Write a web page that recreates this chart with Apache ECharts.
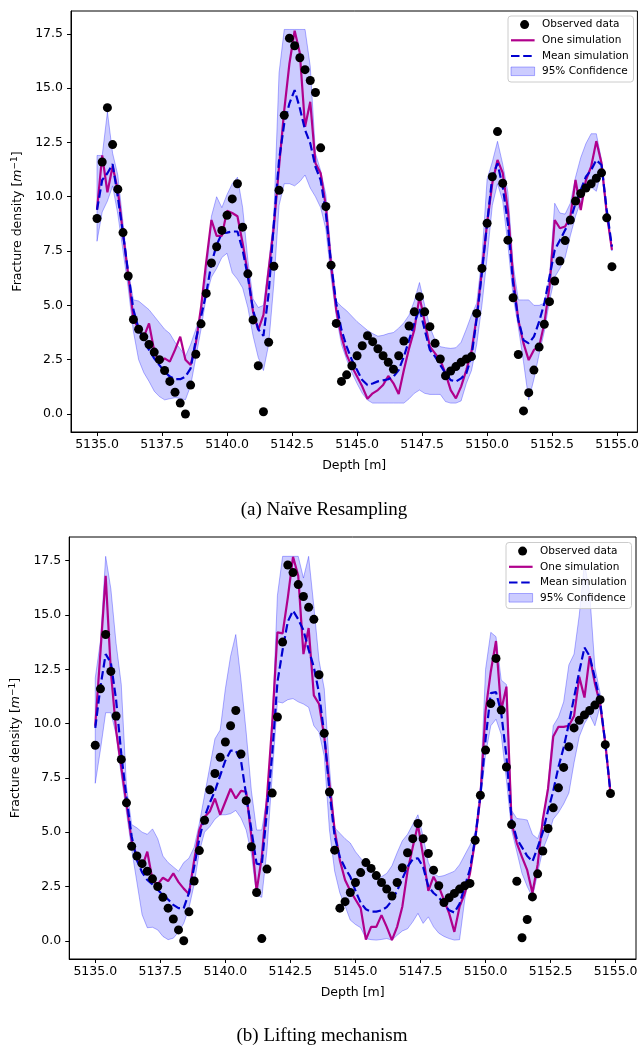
<!DOCTYPE html>
<html><head><meta charset="utf-8">
<script src="https://cdn.jsdelivr.net/npm/echarts@6/dist/echarts.min.js"></script>
<style>html,body{margin:0;padding:0;background:#fff}#c{width:642px;height:1046px}</style>
</head><body><div id="c"></div>
<script>
const depth = [5135.0,5135.2,5135.4,5135.6,5135.8,5136.0,5136.2,5136.4,5136.6,5136.8,
5137.0,5137.2,5137.4,5137.6,5137.8,5138.0,5138.2,5138.4,5138.6,5138.8,
5139.0,5139.2,5139.4,5139.6,5139.8,5140.0,5140.2,5140.4,5140.6,5140.8,
5141.0,5141.2,5141.4,5141.6,5141.8,5142.0,5142.2,5142.4,5142.6,5142.8,
5143.0,5143.2,5143.4,5143.6,5143.8,5144.0,5144.2,5144.4,5144.6,5144.8,
5145.0,5145.2,5145.4,5145.6,5145.8,5146.0,5146.2,5146.4,5146.6,5146.8,
5147.0,5147.2,5147.4,5147.6,5147.8,5148.0,5148.2,5148.4,5148.6,5148.8,
5149.0,5149.2,5149.4,5149.6,5149.8,5150.0,5150.2,5150.4,5150.6,5150.8,
5151.0,5151.2,5151.4,5151.6,5151.8,5152.0,5152.2,5152.4,5152.6,5152.8,
5153.0,5153.2,5153.4,5153.6,5153.8,5154.0,5154.2,5154.4,5154.6,5154.8];

const observed = [9.0,11.6,14.1,12.4,10.35,8.35,6.35,4.35,3.9,3.55,
3.2,2.85,2.5,2.0,1.5,1.0,0.5,0.0,1.33,2.75,
4.15,5.55,6.95,7.7,8.45,9.15,9.9,10.6,8.6,6.45,
4.33,2.22,0.1,3.3,6.8,10.3,13.75,17.3,16.95,16.4,
15.85,15.35,14.8,12.25,9.55,6.85,4.17,1.5,1.8,2.22,
2.68,3.14,3.6,3.33,3.0,2.68,2.38,2.06,2.68,3.36,
4.05,4.7,5.4,4.7,4.02,3.25,2.53,1.76,1.98,2.18,
2.38,2.53,2.64,4.63,6.7,8.78,10.92,13.0,10.62,8.0,
5.35,2.74,0.14,0.98,2.02,3.08,4.13,5.17,6.12,7.04,
7.98,8.93,9.8,10.15,10.4,10.6,10.85,11.1,9.03,6.78];

// (a) Naive resampling
const oneSimA = [9.4,11.9,10.2,11.4,10.3,8.3,6.4,4.4,3.9,3.55,
4.17,2.9,2.33,2.56,2.41,2.95,3.56,2.5,2.25,3.25,
4.9,7.0,8.93,8.2,8.2,9.35,9.25,9.1,7.86,6.47,
4.7,3.87,4.56,6.63,8.62,11.38,13.99,16.14,17.64,16.6,
13.22,14.37,11.54,11.08,9.56,6.86,4.79,3.56,2.72,2.18,
1.72,1.26,0.7,0.95,1.1,1.33,1.75,1.41,0.92,2.02,
3.02,3.87,5.4,4.25,3.1,2.79,2.48,1.87,1.1,0.72,
1.26,2.02,2.87,4.48,6.6,8.78,10.62,11.69,11.1,9.39,
6.32,4.33,3.25,2.48,2.95,3.1,4.17,5.86,8.93,8.55,
8.63,9.08,10.77,9.39,10.77,11.38,12.56,11.54,9.24,7.55];
const meanA = [9.4,10.77,11.08,11.5,10.0,8.3,6.5,4.79,3.94,3.4,
2.95,2.56,2.25,1.95,1.72,1.6,1.6,1.72,2.1,3.4,
4.48,5.55,6.93,7.78,8.32,8.35,8.4,8.4,7.55,6.32,
4.79,3.9,3.6,5.55,8.78,11.69,13.38,14.3,14.91,14.07,
13.07,12.46,11.38,10.77,9.24,6.9,5.09,3.87,3.1,2.48,
2.02,1.56,1.33,1.4,1.5,1.55,1.6,1.72,2.02,2.64,
3.4,4.17,4.86,3.87,2.95,2.64,2.25,1.87,1.56,1.49,
1.64,1.87,2.64,4.4,6.5,8.78,10.92,11.54,10.46,8.78,
6.01,4.33,3.4,3.25,3.56,4.25,5.09,6.32,7.55,8.0,
8.47,8.93,9.7,10.31,10.92,11.23,11.69,11.46,9.39,7.7];
const upperA = [11.9,11.9,13.9,12.0,11.0,8.8,6.6,5.25,5.2,5.0,
4.8,4.5,4.2,3.9,3.7,3.3,3.0,2.65,3.2,3.9,
4.6,6.4,9.1,10.0,9.5,10.1,10.6,10.9,9.5,7.1,
5.3,4.9,5.0,6.9,9.1,15.7,17.7,17.7,17.7,17.7,
17.7,16.0,12.0,11.2,10.1,7.4,5.2,4.95,4.75,4.5,
4.25,4.05,3.85,3.7,3.58,3.62,3.7,3.75,3.95,4.2,
4.55,5.2,6.05,5.0,4.0,3.4,3.1,3.05,3.02,3.05,
3.3,3.9,4.55,5.1,7.2,10.8,11.6,12.55,11.5,10.2,
6.9,5.25,5.25,5.25,5.0,5.0,5.1,6.3,9.7,9.25,
9.2,9.7,10.9,11.8,12.45,12.9,12.9,11.7,9.3,7.6];
const lowerA = [7.95,9.3,9.8,10.5,9.2,7.5,5.8,3.8,2.5,1.9,
1.5,1.05,0.8,0.65,0.7,0.75,0.72,0.65,1.3,2.6,
3.9,5.4,6.3,6.7,7.2,7.4,6.5,6.2,5.8,4.9,
3.6,2.6,2.0,3.2,6.0,9.6,10.6,10.6,10.5,10.7,
11.0,10.4,10.0,9.5,8.5,6.3,4.5,3.2,2.5,1.9,
1.4,0.95,0.64,0.5,0.5,0.5,0.5,0.5,0.5,0.5,
0.7,0.95,1.1,0.95,0.9,0.9,0.9,0.57,0.5,0.5,
0.6,1.4,2.0,3.2,5.0,7.2,9.6,10.6,9.8,7.8,
5.4,4.0,2.4,0.64,1.6,2.75,3.8,5.2,6.3,6.7,
7.2,8.2,9.1,9.8,10.3,10.45,10.25,11.2,9.2,7.5];

// (b) Lifting mechanism
const oneSimB = [9.9,13.3,16.8,12.4,9.7,8.0,6.3,4.6,3.9,3.4,
4.1,2.8,2.6,2.9,2.75,3.1,2.7,2.4,2.15,3.7,
5.1,5.7,5.95,6.55,5.8,6.4,7.0,6.55,6.9,6.86,
4.8,2.3,3.85,6.6,10.0,14.2,14.15,15.8,17.68,16.8,
13.2,14.4,11.3,10.9,9.4,7.2,5.1,3.7,2.8,2.3,
1.9,1.5,0.05,0.64,0.64,1.18,0.64,0.03,0.64,1.57,
3.2,4.3,5.35,3.9,2.3,2.95,2.5,1.87,1.26,0.41,
1.57,2.18,3.1,4.64,6.63,10.6,12.4,13.8,10.6,11.7,
5.4,4.5,3.85,3.25,2.2,3.5,5.6,7.0,9.4,9.85,
9.85,9.9,10.35,12.15,11.2,13.1,11.85,10.9,9.1,6.8];
const meanB = [9.8,11.7,13.2,12.8,11.1,8.6,6.6,4.8,3.7,3.15,
2.8,2.6,2.35,2.1,1.9,1.65,1.5,1.5,2.2,3.4,
4.7,5.7,6.35,6.9,7.6,8.3,8.75,8.75,8.3,6.7,
5.1,3.55,3.5,6.0,8.6,11.9,13.4,14.7,15.2,14.8,
14.3,13.4,12.6,11.4,9.5,6.9,4.8,3.85,3.35,2.95,
2.3,1.75,1.45,1.34,1.34,1.4,1.55,1.85,2.3,2.85,
3.4,3.75,3.8,3.4,2.5,2.2,2.0,1.7,1.4,1.3,
1.7,2.5,3.3,4.7,6.7,9.3,11.4,11.45,10.5,8.5,
5.56,4.7,4.3,3.9,3.65,4.3,5.0,6.0,6.9,8.0,
8.9,10.0,11.2,12.4,13.5,13.1,12.1,11.0,9.1,6.8];
const upperB = [12.1,13.8,17.7,16.2,13.7,11.8,7.1,5.35,5.2,5.0,
4.9,5.15,4.7,3.9,3.6,3.4,3.2,3.6,3.8,4.3,
5.4,6.7,8.0,9.3,9.7,11.6,13.1,14.1,12.0,9.6,
6.9,5.1,5.1,6.6,9.9,15.9,17.7,17.7,17.7,17.7,
16.7,17.7,15.4,12.9,11.6,8.0,5.2,4.95,4.7,4.5,
4.1,3.8,3.55,3.3,3.1,2.95,3.1,3.45,4.05,4.6,
4.9,5.35,5.8,4.8,3.6,3.1,2.95,3.0,3.1,3.2,
3.5,3.95,4.4,5.0,7.0,12.5,14.2,14.0,12.0,11.8,
6.0,5.63,5.6,5.56,4.9,4.7,5.4,7.2,9.9,10.3,
11.0,12.7,13.2,15.0,17.4,16.0,12.6,11.4,9.1,6.8];
const lowerB = [7.25,8.8,10.5,10.5,9.5,7.6,5.9,4.2,2.7,1.2,
0.6,0.62,0.5,0.2,0.05,0.12,0.4,0.8,1.5,2.6,
4.1,5.0,5.25,5.6,5.8,5.8,5.85,6.0,5.65,5.1,
4.0,2.1,2.0,4.2,7.6,11.0,10.95,11.1,11.15,11.0,
10.9,10.75,9.9,9.6,8.5,5.1,3.2,2.2,1.6,0.95,
0.75,0.6,0.1,0.05,0.03,0.06,0.1,0.03,0.25,0.45,
0.55,0.87,1.26,0.8,1.1,0.64,0.35,0.2,0.1,0.03,
0.05,1.9,3.2,4.6,6.4,8.6,9.9,10.2,9.5,7.4,
5.1,4.1,3.1,2.5,2.0,3.1,4.2,4.8,5.6,5.9,
6.3,6.8,8.2,9.4,10.0,10.4,9.9,10.8,9.1,6.8];

const xTicks = [5135.0,5137.5,5140.0,5142.5,5145.0,5147.5,5150.0,5152.5,5155.0];
const yTicks = [0.0,2.5,5.0,7.5,10.0,12.5,15.0,17.5];
const captions = ['(a) Naïve Resampling','(b) Lifting mechanism'];
const legendLabels = ['Observed data','One simulation','Mean simulation','95% Confidence'];

const MAG = '#b0008c', BLUE = '#0000d0';
const FONT = '"DejaVu Sans", sans-serif';

const chart = echarts.init(document.getElementById('c'), null, {renderer:'canvas'});
const pairs = ys => depth.map((x,i)=>[x, ys[i]]);

const grids = [
  {left:71, top:11, width:567, height:421},
  {left:69, top:537, width:567, height:422}
];
const yRanges = [[-0.83,18.55],[-0.84,18.59]];

function xAxisFor(i){
  return {gridIndex:i, type:'value', min:5134.0, max:5155.78,
    name:'Depth [m]', nameLocation:'middle', nameGap:27,
    nameTextStyle:{fontFamily:FONT, fontSize:12.5, color:'#000'},
    axisLine:{show:true, onZero:false, lineStyle:{color:'#000', width:1}},
    axisTick:{show:true, customValues:xTicks, length:4, lineStyle:{color:'#000'}},
    axisLabel:{show:true, customValues:xTicks, margin:6, formatter:v=>Number(v).toFixed(1),
      fontFamily:FONT, fontSize:12.5, color:'#000'},
    splitLine:{show:false}};
}
function yAxisFor(i){
  return {gridIndex:i, type:'value', min:yRanges[i][0], max:yRanges[i][1],
    name:'{a|Fracture density [}{i|m}{s|−1}{a|]}', nameLocation:'middle', nameGap:41, nameRotate:90,
    nameTextStyle:{color:'#000', rich:{
      a:{fontFamily:FONT, fontSize:12.5, color:'#000'},
      i:{fontFamily:FONT, fontSize:12.5, fontStyle:'italic', color:'#000'},
      s:{fontFamily:FONT, fontSize:9, color:'#000', padding:[0,0,7,0]}}},
    axisLine:{show:true, onZero:false, lineStyle:{color:'#000', width:1}},
    axisTick:{show:true, customValues:yTicks, length:4, lineStyle:{color:'#000'}},
    axisLabel:{show:true, customValues:yTicks, margin:8, formatter:v=>Number(v).toFixed(1),
      fontFamily:FONT, fontSize:12.5, color:'#000'},
    splitLine:{show:false}};
}

function bandSeries(i, lo, hi){
  return {type:'custom', name:legendLabels[3], xAxisIndex:i, yAxisIndex:i, silent:true, z:1,
    data: depth.map((x,k)=>[x, lo[k], hi[k]]),
    encode:{x:0, y:[1,2]},
    renderItem(params, api){
      if(params.dataIndexInside !== 0) return null;
      const n = params.dataInsideLength;
      const up=[], dn=[];
      for(let j=0;j<n;j++){
        up.push(api.coord([api.value(0,j), api.value(2,j)]));
        dn.push(api.coord([api.value(0,j), api.value(1,j)]));
      }
      return {type:'polygon', shape:{points: up.concat(dn.reverse())},
        style:{fill:'rgba(0,0,255,0.2)', stroke:'rgba(0,0,255,0.3)', lineWidth:1}};
    }};
}
function lineSeries(i, ys, name, color, dashed){
  return {type:'line', name, xAxisIndex:i, yAxisIndex:i, data:pairs(ys), symbol:'none', z:3,
    lineStyle:{color, width:2.2, type: dashed ? [8.5,3.7] : 'solid'}, silent:true, animation:false};
}
function scatterSeries(i){
  return {type:'scatter', name:legendLabels[0], xAxisIndex:i, yAxisIndex:i, data:pairs(observed),
    symbol:'circle', symbolSize:9, itemStyle:{color:'#000', opacity:1}, z:5, silent:true};
}

function legendGraphic(ox, oy){
  const els = [];
  els.push({type:'rect', shape:{x:ox, y:oy, width:125.5, height:66, r:3},
    style:{fill:'rgba(255,255,255,0.8)', stroke:'#cccccc', lineWidth:1}, z:100});
  const tx = ox+34, rows=[oy+8.6, oy+24.3, oy+40, oy+55.3];
  els.push({type:'circle', shape:{cx:ox+16.6, cy:rows[0], r:4.5}, style:{fill:'#000'}, z:101});
  els.push({type:'line', shape:{x1:ox+3, y1:rows[1], x2:ox+26.6, y2:rows[1]}, style:{stroke:MAG, lineWidth:2.2}, z:101});
  els.push({type:'line', shape:{x1:ox+3, y1:rows[2], x2:ox+26.6, y2:rows[2]}, style:{stroke:BLUE, lineWidth:2.2, lineDash:[8.5,3.7]}, z:101});
  els.push({type:'rect', shape:{x:ox+3, y:rows[3]-4.3, width:23.6, height:8.6},
    style:{fill:'rgba(0,0,255,0.2)', stroke:'rgba(0,0,255,0.3)', lineWidth:1}, z:101});
  legendLabels.forEach((t,k)=>{
    els.push({type:'text', style:{text:t, x:tx, y:rows[k], textAlign:'left', textVerticalAlign:'middle',
      font:'10.5px "DejaVu Sans", sans-serif', fill:'#000'}, z:101});
  });
  return els;
}

const graphic = [
  ...legendGraphic(508, 16),
  ...legendGraphic(506, 542.5),
  {type:'text', style:{text:captions[0], x:324, y:510, textAlign:'center', textVerticalAlign:'middle',
    font:'19px "Liberation Serif", serif', fill:'#000'}},
  {type:'text', style:{text:captions[1], x:322, y:1036.5, textAlign:'center', textVerticalAlign:'middle',
    font:'19px "Liberation Serif", serif', fill:'#000'}}
];

chart.setOption({
  animation:false,
  backgroundColor:'#fff',
  grid: grids.map(g=>Object.assign({show:true, borderColor:'#000', borderWidth:1, backgroundColor:'transparent', containLabel:false}, g)),
  xAxis:[xAxisFor(0), xAxisFor(1)],
  yAxis:[yAxisFor(0), yAxisFor(1)],
  series:[
    bandSeries(0, lowerA, upperA),
    lineSeries(0, oneSimA, legendLabels[1], MAG, false),
    lineSeries(0, meanA, legendLabels[2], BLUE, true),
    scatterSeries(0),
    bandSeries(1, lowerB, upperB),
    lineSeries(1, oneSimB, legendLabels[1], MAG, false),
    lineSeries(1, meanB, legendLabels[2], BLUE, true),
    scatterSeries(1)
  ],
  graphic
});
</script></body></html>
